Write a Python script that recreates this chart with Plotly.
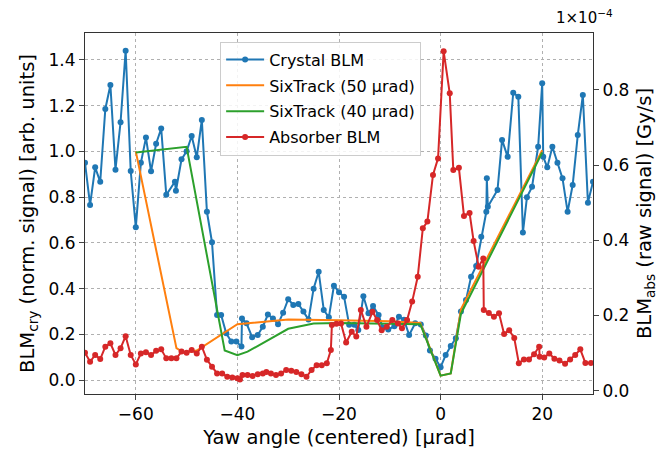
import plotly.graph_objects as go

# Crystal BLM (left axis, normalised signal)
cry_x = [-70, -69, -68, -67, -66, -65, -64, -63, -62, -61, -60, -59, -58, -57, -56, -55, -54,
         -52.3, -52.1, -51, -50, -49, -48, -47, -46, -45, -44, -43.2, -42.2, -41.2, -40.2, -39.2,
         -39.1, -38.2, -37.1, -36, -35, -34, -33, -32, -31, -30, -29, -28, -27, -26, -25, -24,
         -23, -22, -21, -20, -19, -18, -17, -16.2, -15.2, -14.2, -13.3, -12.2, -11.4, -10.3,
         -9.1, -8.2, -7.2, -6.2, -5, -3.9, -2.9, -2.1, -1, 0, 1, 2, 3, 4, 5, 6, 7, 8, 9, 9.1,
         9.3, 11.2, 12.1, 13.2, 14.3, 15.3, 16.2, 17, 18, 19.2, 20, 20.2, 21, 22, 23, 24, 25,
         26, 27, 28, 29, 30]
cry_y = [0.95, 0.766, 0.93, 0.867, 1.185, 1.29, 0.92, 1.127, 1.44, 0.914, 0.668, 0.95, 1.06,
         0.913, 1.033, 1.10, 0.81, 0.867, 0.828, 0.965, 1.0, 1.067, 0.974, 1.137, 0.736, 0.603,
         0.285, 0.285, 0.205, 0.169, 0.169, 0.147, 0.27, 0.249, 0.188, 0.198, 0.234, 0.287,
         0.27, 0.245, 0.295, 0.354, 0.329, 0.333, 0.30, 0.265, 0.40, 0.474, 0.307, 0.275, 0.413,
         0.385, 0.365, 0.242, 0.242, 0.22, 0.367, 0.293, 0.324, 0.285, 0.23, 0.222, 0.236,
         0.278, 0.264, 0.198, 0.249, 0.244, 0.196, 0.13, 0.094, 0.057, 0.11, 0.15, 0.183, 0.30,
         0.351, 0.452, 0.499, 0.627, 0.736, 0.882, 0.758, 0.831, 1.05, 0.976, 1.256, 1.239,
         0.645, 0.80, 0.845, 1.02, 1.297, 0.976, 0.93, 1.02, 0.95, 0.882, 0.736, 0.853, 1.071,
         1.246, 0.776, 0.867]

# SixTrack simulations (left axis)
st50_x = [-60, -52, -50.5, -48, -40, -30, -20, -10, -4, 0, 2, 4, 20]
st50_y = [1.0, 0.14, 0.12, 0.13, 0.245, 0.265, 0.262, 0.258, 0.25, 0.02, 0.03, 0.31, 1.005]
st40_x = [-60, -50, -42.5, -40, -38, -30, -25, -20, -4, 0, 2, 4, 20]
st40_y = [0.995, 1.02, 0.13, 0.11, 0.125, 0.225, 0.248, 0.25, 0.245, 0.02, 0.03, 0.29, 0.995]

# Absorber BLM (right axis, raw signal x1e-4 Gy/s)
abs_x = [-70, -69, -68, -67, -66, -65, -64, -63, -62, -61, -60, -59, -58, -57, -56, -55, -54,
         -53, -52, -51, -50, -49, -48, -47, -46, -45, -44, -43, -42, -41, -40, -39.5, -39, -38,
         -37, -36, -35, -34.3, -33.4, -32.4, -31.4, -30.4, -29.4, -28.4, -27.4, -26.4, -25.4,
         -24.4, -23.4, -22.4, -21.6, -21.4, -20.5, -19.6, -18.6, -17.5, -16.6, -15.7, -14.6,
         -13.4, -12.5, -11.6, -10.6, -9.5, -8.4, -7.6, -6.6, -5.6, -4.5, -3.5, -2.6, -1.5,
         -0.5, 0.6, 1.8, 2.5, 3.6, 4.6, 5.7, 6.5, 7.5, 8.4, 8.5, 9.5, 10.5, 11.5, 12.5, 13.5,
         14.5, 15.4, 16.4, 17.4, 18.4, 19.4, 19.5, 20.4, 21.4, 22.4, 23.4, 24.5, 25.5, 26.5,
         27.5, 28.5, 29.6]
abs_y = [0.101, 0.077, 0.095, 0.084, 0.117, 0.126, 0.095, 0.113, 0.145, 0.095, 0.07, 0.099,
         0.102, 0.095, 0.106, 0.11, 0.086, 0.086, 0.086, 0.104, 0.101, 0.108, 0.099, 0.117,
         0.082, 0.064, 0.046, 0.046, 0.037, 0.035, 0.033, 0.03, 0.042, 0.042, 0.039, 0.044,
         0.046, 0.05, 0.046, 0.042, 0.046, 0.055, 0.053, 0.05, 0.044, 0.037, 0.055, 0.068,
         0.068, 0.073, 0.108, 0.175, 0.178, 0.179, 0.128, 0.157, 0.144, 0.215, 0.17, 0.21,
         0.188, 0.161, 0.17, 0.188, 0.179, 0.166, 0.188, 0.237, 0.303, 0.432, 0.45, 0.574,
         0.618, 0.903, 0.791, 0.587, 0.593, 0.465, 0.473, 0.398, 0.33, 0.352, 0.215, 0.207,
         0.197, 0.206, 0.151, 0.161, 0.14, 0.073, 0.083, 0.083, 0.097, 0.117, 0.09, 0.088,
         0.099, 0.085, 0.08, 0.072, 0.083, 0.095, 0.11, 0.074, 0.074]

x_ticks = [-60, -40, -20, 0, 20]
left_ticks = [0.0, 0.2, 0.4, 0.6, 0.8, 1.0, 1.2, 1.4]
right_ticks = [0.0, 0.2, 0.4, 0.6, 0.8]

FONT = "DejaVu Sans"
fig = go.Figure()
fig.add_trace(go.Scatter(x=cry_x, y=cry_y, mode="lines+markers", name="Crystal BLM",
                         legendgroup="a",
                         line=dict(color="#1f77b4", width=2),
                         marker=dict(color="#1f77b4", size=6)))
fig.add_trace(go.Scatter(x=st50_x, y=st50_y, mode="lines", name="SixTrack (50 μrad)",
                         legendgroup="b",
                         line=dict(color="#ff7f0e", width=2)))
fig.add_trace(go.Scatter(x=st40_x, y=st40_y, mode="lines", name="SixTrack (40 μrad)",
                         legendgroup="c",
                         line=dict(color="#2ca02c", width=2)))
fig.add_trace(go.Scatter(x=abs_x, y=abs_y, mode="lines+markers", name="Absorber BLM",
                         legendgroup="d",
                         yaxis="y2", line=dict(color="#d62728", width=2),
                         marker=dict(color="#d62728", size=6)))

grid = dict(showgrid=True, gridcolor="#b0b0b0", gridwidth=1, griddash="3px,3px")
fig.update_layout(
    width=659, height=453,
    margin=dict(l=85, r=66, t=33, b=59, autoexpand=False),
    paper_bgcolor="white", plot_bgcolor="white",
    font=dict(family=FONT, size=17, color="#000000"),
    xaxis=dict(range=[-70, 30], tickvals=x_ticks, ticks="outside", ticklen=5,
               showline=True, mirror=True, linecolor="#333", linewidth=1,
               tickfont=dict(size=17), automargin=False,
               title=dict(text="Yaw angle (centered) [μrad]", font=dict(size=19.5), standoff=6),
               zeroline=False, **grid),
    yaxis=dict(range=[-0.06, 1.517], tickvals=left_ticks, tickformat=".1f",
               ticks="outside", ticklen=5, showline=True, linecolor="#333", linewidth=1,
               tickfont=dict(size=17), automargin=False,
               title=dict(text="BLM<sub>cry</sub> (norm. signal) [arb. units]",
                          font=dict(size=19.5), standoff=8),
               zeroline=False, **grid),
    yaxis2=dict(range=[-0.0088, 0.9516], tickvals=right_ticks, tickformat=".1f",
                overlaying="y", side="right", ticks="outside", ticklen=5,
                tickfont=dict(size=17), automargin=False,
                showline=True, linecolor="#333", linewidth=1, showgrid=False, zeroline=False,
                title=dict(text="BLM<sub>abs</sub> (raw signal) [Gy/s]",
                           font=dict(size=19.5), standoff=8)),
    legend=dict(x=0.266, y=0.976, xanchor="left", yanchor="top",
                bgcolor="rgba(255,255,255,0.85)", bordercolor="#cccccc", borderwidth=1,
                font=dict(size=16, family=FONT), tracegroupgap=2, itemwidth=38),
    showlegend=True,
)
fig.add_annotation(text="1×10<sup>−4</sup>", xref="paper", yref="paper", x=0.923, y=1.0,
                   xanchor="left", yanchor="bottom", showarrow=False, yshift=4,
                   font=dict(size=15, family=FONT))
fig.write_html("out.html")
